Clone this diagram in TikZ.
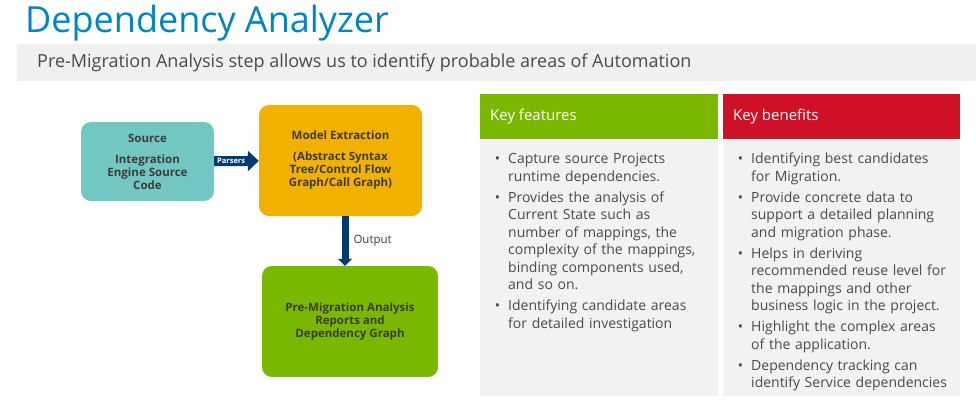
\documentclass[tikz,border=0pt]{standalone}
\usepackage{fontspec}
\setmainfont{Open Sans}
\usepackage{enumitem}
\usetikzlibrary{arrows.meta, positioning}
\definecolor{DellBlue}{HTML}{0085C3}
\definecolor{BandGrey}{HTML}{F0F0F0}
\definecolor{BodyGrey}{HTML}{F2F2F2}
\definecolor{TextGrey}{HTML}{4A4A4A}
\definecolor{BoxText}{HTML}{3C3C3C}
\definecolor{SrcTeal}{HTML}{73C7C2}
\definecolor{ModelOrange}{HTML}{F2B000}
\definecolor{DellGreen}{HTML}{7AB800}
\definecolor{DellRed}{HTML}{CE1126}
\definecolor{ArrowNavy}{HTML}{003A70}
\tikzset{
  stepbox/.style={rounded corners=10pt, align=center, inner sep=0pt, text=BoxText,
    font=\bfseries\fontsize{11.5}{13}\selectfont},
  headbox/.style={anchor=north west, minimum width=238pt, minimum height=45pt, inner sep=0pt},
  bodybox/.style={anchor=north west, fill=BodyGrey, minimum width=238pt, minimum height=256pt, inner sep=0pt},
  headtext/.style={anchor=west, text=white, inner sep=0pt, font=\fontsize{15}{18}\selectfont},
  listtext/.style={anchor=north west, inner sep=0pt, text width=224pt, text=TextGrey,
    font=\fontsize{14}{17.5}\selectfont}
}
\setlist[itemize]{label=\textbullet, leftmargin=16pt, labelsep=8pt, itemsep=3.5pt, parsep=0pt, topsep=0pt, partopsep=0pt}

\begin{document}
\begin{tikzpicture}[x=1pt, y=-1pt]
  \useasboundingbox (0,0) rectangle (976,405);
  % title and subtitle band
  \node[anchor=base west, inner sep=0pt, text=DellBlue, font=\fontsize{36}{40}\selectfont] (title) at (25,32) {Dependency Analyzer};
  \node[anchor=north west, fill=BandGrey, minimum width=959pt, minimum height=37pt, inner sep=0pt] (band) at (17,44) {};
  \node[anchor=west, inner sep=0pt, text=TextGrey, font=\fontsize{18}{20}\selectfont] (sub) at (37,62.5) {Pre-Migration Analysis step allows us to identify probable areas of Automation};

  % flow boxes
  \node[stepbox, fill=SrcTeal, minimum width=133pt, minimum height=79pt] (src) at (147.5,161.5) {Source\\[8pt]Integration\\Engine Source\\Code};
  \node[stepbox, fill=ModelOrange, minimum width=163pt, minimum height=111pt] (model) at (340.5,160.5) {Model Extraction\\[8pt](Abstract Syntax\\Tree/Control Flow\\Graph/Call Graph)};
  \node[stepbox, fill=DellGreen, minimum width=176pt, minimum height=111pt] (report) at (350,321.5) {Pre-Migration Analysis\\Reports and\\Dependency Graph};

  \draw[ArrowNavy, line width=10pt, -{Triangle[length=11pt, width=20pt]}] (src) -- (model)
    node[pos=0.38, text=white, inner sep=0pt, font=\bfseries\fontsize{7.5}{8}\selectfont] (parsers) {Parsers};
  \draw[ArrowNavy, line width=7pt, -{Triangle[length=7pt, width=14pt]}] ([xshift=4.5pt]model.south) -- ([xshift=-5pt]report.north)
    node[midway, right=5pt, inner sep=0pt, text=BoxText, font=\fontsize{11.5}{13}\selectfont] (output) {Output};

  % key features column
  \node[headbox, fill=DellGreen] (feathead) at (480,94) {};
  \node[headtext] at ([xshift=10pt]feathead.west) {Key features};
  \node[bodybox] (featbody) at (480,140) {};
  \node[listtext] (featlist) at (492,146) {%
    \begin{itemize}
      \item Capture source Projects\newline runtime dependencies.
      \item Provides the analysis of\newline Current State such as\newline number of mappings, the\newline complexity of the mappings,\newline binding components used,\newline and so on.
      \item Identifying candidate areas\newline for detailed investigation
    \end{itemize}};

  % key benefits column
  \node[headbox, fill=DellRed, minimum width=237pt] (benhead) at (723,94) {};
  \node[headtext] at ([xshift=10pt]benhead.west) {Key benefits};
  \node[bodybox, minimum width=237pt] (benbody) at (723,140) {};
  \node[listtext] (benlist) at (735,146) {%
    \begin{itemize}
      \item Identifying best candidates\newline for Migration.
      \item Provide concrete data to\newline support a detailed planning\newline and migration phase.
      \item Helps in deriving\newline recommended reuse level for\newline the mappings and other\newline business logic in the project.
      \item Highlight the complex areas\newline of the application.
      \item Dependency tracking can\newline identify Service dependencies
    \end{itemize}};
\end{tikzpicture}
\end{document}
